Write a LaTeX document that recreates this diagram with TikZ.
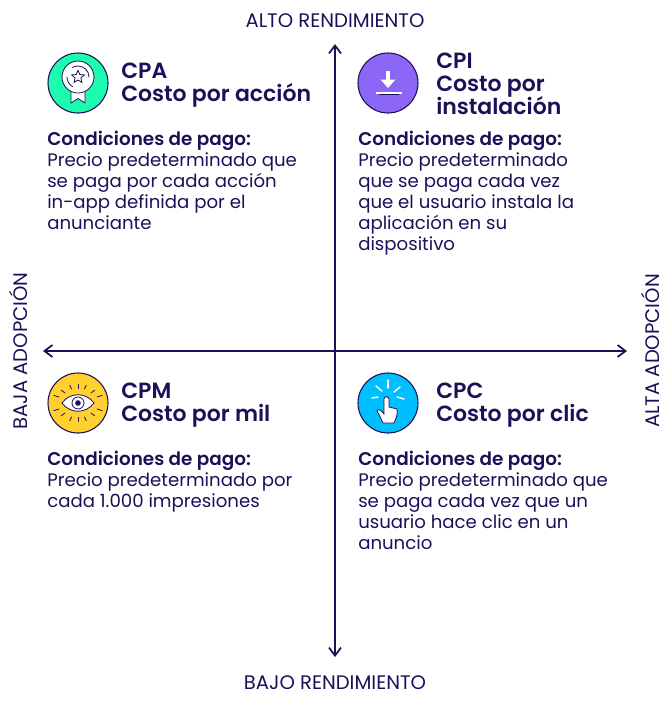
\documentclass[tikz,border=0pt]{standalone}
\usepackage{fontspec}
\setmainfont{Poppins}[BoldFont={Poppins SemiBold}]
\usepackage{xcolor}
\usetikzlibrary{arrows.meta,calc,shapes.geometric}
\setlength{\lineskiplimit}{-10pt}
\definecolor{PagoInk}{HTML}{1E0F59}
\definecolor{PagoGreen}{HTML}{1DFCAE}
\definecolor{PagoPurple}{HTML}{8C66F7}
\definecolor{PagoYellow}{HTML}{FFD02E}
\definecolor{PagoBlue}{HTML}{00BFFF}
\tikzset{
  axisline/.style={draw=PagoInk,line width=1.3pt,{Straight Barb[length=6pt,width=9pt]}-{Straight Barb[length=6pt,width=9pt]}},
  axislabel/.style={inner sep=0,text=PagoInk,font=\fontsize{14.7}{15}\selectfont},
  iconbadge/.style={circle,draw=PagoInk,line width=0.8pt,minimum size=45pt,inner sep=0},
  titlebox/.style={anchor=north west,inner sep=0,align=left,text=PagoInk,font=\fontsize{16.5}{17}\selectfont\bfseries},
  bodybox/.style={anchor=north west,inner sep=0,align=left,text=PagoInk,font=\fontsize{13.6}{15.75}\selectfont},
  iconink/.style={draw=PagoInk,line width=0.6pt,line cap=round},
  iconwhite/.style={draw=white,line width=1.1pt,line cap=round}
}
\newcommand{\pagohead}{{\fontsize{13.8}{15.75}\selectfont\bfseries Condiciones de pago:}}
\begin{document}
\begin{tikzpicture}[x=0.75pt,y=-0.75pt]
  \useasboundingbox (0,0) rectangle (670,701);
  % axes
  \coordinate (north) at (335,44);
  \coordinate (south) at (335,657);
  \coordinate (west) at (43,351);
  \coordinate (east) at (627,351);
  \draw[axisline] (south) -- (north);
  \draw[axisline] (west) -- (east);
  \node[axislabel] (high) at (335,21) {ALTO RENDIMIENTO};
  \node[axislabel] (low) at (335,683) {BAJO RENDIMIENTO};
  \node[axislabel,rotate=90] (lowad) at (18,351) {BAJA ADOPCIÓN};
  \node[axislabel,rotate=90] (highad) at (650,351) {ALTA ADOPCIÓN};
  % CPA
  \node[iconbadge,fill=PagoGreen] (cpa) at (78,83) {};
  \fill[white,draw=PagoInk,line width=0.6pt] (71,88) -- (71,103) -- (78,98.5) -- (85,103) -- (85,88) -- cycle;
  \draw[iconink,fill=white] (78,77) circle (16);
  \draw[iconink] (67,77) arc (180:120:11);
  \draw[iconink] (89,77) arc (0:-120:11);
  \node[star,star points=5,star point ratio=2.2,draw=PagoInk,line width=0.6pt,minimum size=10pt,inner sep=0] (cpastar) at (78,77) {};
  \node[titlebox] (cpatitle) at (121,63) {CPA\\Costo por acción};
  \node[bodybox] (cpatext) at (47,131) {\pagohead\\Precio predeterminado que\\se paga por cada acción\\in-app definida por el\\anunciante};
  % CPI
  \node[iconbadge,fill=PagoPurple] (cpi) at (388,83) {};
  \draw[iconwhite,line width=2.4pt,line cap=butt] (388,71) -- (388,81);
  \fill[white] (380.5,79.5) -- (395.5,79.5) -- (388,88) -- cycle;
  \draw[white,line width=1.6pt] (376,93) -- (402,93);
  \draw[PagoInk,line width=0.6pt] (379,94.6) -- (399,94.6);
  \node[titlebox] (cpititle) at (436,53) {CPI\\Costo por\\instalación};
  \node[bodybox] (cpitext) at (358,131) {\pagohead\\Precio predeterminado\\que se paga cada vez\\que el usuario instala la\\aplicación en su\\dispositivo};
  % CPM
  \node[iconbadge,fill=PagoYellow] (cpm) at (78,403) {};
  \foreach \dx/\dy in {-19/-6,-13/-10,-6.5/-14,0/-14.5,6.5/-14,13/-10,19/-6,-19/6,-13/10,-6.5/14,0/14.5,6.5/14,13/10,19/6}
    \draw[iconink] ($(78,403)+(\dx,\dy)$) -- ($(78,403)+1.27*(\dx,\dy)$);
  \draw[iconink,fill=white] (62,403) .. controls (70,392) and (86,392) .. (94,403) .. controls (86,414) and (70,414) .. cycle;
  \draw[iconink] (78,403) circle (6);
  \fill[PagoInk] (78,403) circle (2.8);
  \node[titlebox] (cpmtitle) at (121,383) {CPM\\Costo por mil};
  \node[bodybox] (cpmtext) at (47,451) {\pagohead\\Precio predeterminado por\\cada 1.000 impresiones};
  % CPC
  \node[iconbadge,fill=PagoBlue] (cpc) at (388,403) {};
  \draw[iconwhite] (388,380) -- (388,388);
  \draw[iconwhite] (376,386) -- (382,391);
  \draw[iconwhite] (400,387) -- (394,392);
  \draw[iconwhite] (372,398) -- (378,397);
  \draw[iconwhite] (397,397) -- (404,399);
  \draw[iconink,fill=white] (384,414) -- (384,399) .. controls (384,396) and (389,396) .. (389,399) -- (389,407) -- (397,409) .. controls (398,414) and (396,419) .. (394,423) -- (383,423) .. controls (381,419) and (379,414) .. (377,411) .. controls (378,408) and (381,410) .. cycle;
  \node[titlebox] (cpctitle) at (436,383) {CPC\\Costo por clic};
  \node[bodybox] (cpctext) at (358,451) {\pagohead\\Precio predeterminado que\\se paga cada vez que un\\usuario hace clic en un\\anuncio};
\end{tikzpicture}
\end{document}
